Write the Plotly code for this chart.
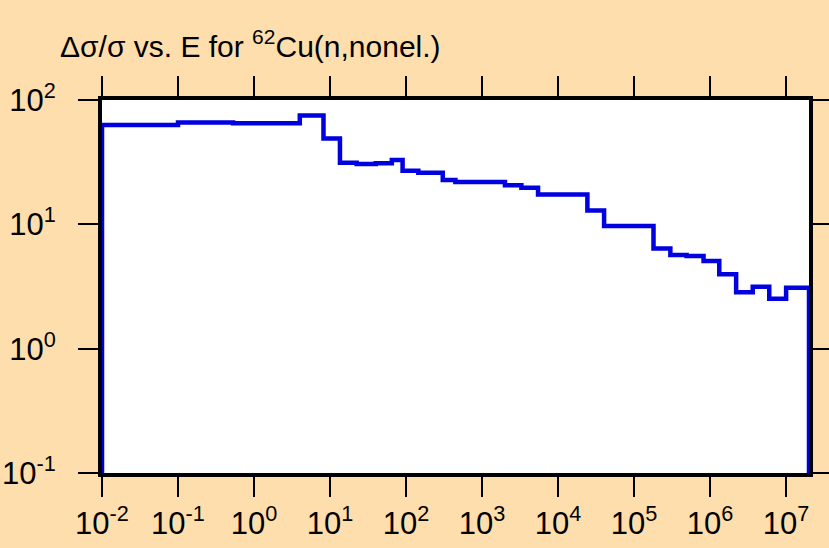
import plotly.graph_objects as go

# Group boundaries (eV) and relative uncertainty (%) per group
energy_edges = [1e-2, 0.1, 0.53, 4, 8.2, 13.5, 22.4, 40, 65, 90, 145, 304, 446,
                2000, 3290, 5450, 24300, 40300, 1.8e5, 3e5, 4.9e5, 8.2e5,
                1.32e6, 2.2e6, 3.64e6, 6e6, 1e7, 2e7]
rel_unc = [63, 66, 65, 75, 49, 31.3, 30.5, 31, 32.9, 27, 26, 22.7, 21.9,
           20.6, 19.7, 17.4, 12.9, 9.7, 6.4, 5.67, 5.56, 5.07,
           3.96, 2.84, 3.15, 2.52, 3.09]

x_tick_exp = [-2, -1, 0, 1, 2, 3, 4, 5, 6, 7]
y_tick_exp = [-1, 0, 1, 2]

# histogram closes down to below the lower axis limit at both ends
baseline = 0.01
xs = [energy_edges[0]] + energy_edges + [energy_edges[-1]]
ys = [baseline] + rel_unc + [rel_unc[-1], baseline]

font_family = "Liberation Sans, Arial, sans-serif"

fig = go.Figure()
fig.add_trace(go.Scatter(
    x=xs, y=ys, mode="lines", line_shape="hv",
    line=dict(color="#0000E0", width=4.5),
    hoverinfo="skip", showlegend=False,
))

axis_common = dict(
    type="log", showgrid=False, zeroline=False, automargin=False,
    showline=True, linecolor="black", linewidth=4, mirror="ticks",
    ticks="outside", ticklen=20, tickwidth=2, tickcolor="black",
    tickfont=dict(family=font_family, size=31, color="black"),
)

fig.update_xaxes(
    range=[-2, 7.301],
    tickvals=[10.0 ** e for e in x_tick_exp],
    ticktext=[f"10<sup>{e}</sup>" for e in x_tick_exp],
    **axis_common,
)
fig.update_yaxes(
    range=[-1, 2],
    tickvals=[10.0 ** e for e in y_tick_exp],
    ticktext=[f"10<sup>{e}</sup>" for e in y_tick_exp],
    ticklabelstandoff=16,
    **axis_common,
)

fig.update_layout(
    width=829, height=548,
    margin=dict(l=102, r=20, t=100, b=75),
    paper_bgcolor="#FFDEAD", plot_bgcolor="white",
    title=dict(
        text="Δσ/σ vs. E for <sup>62</sup>Cu(n,nonel.)",
        x=60 / 829, xanchor="left", xref="container",
        y=1 - 46 / 548, yanchor="middle", yref="container",
        font=dict(family=font_family, size=30, color="black"),
    ),
)

fig.write_html("out.html")
